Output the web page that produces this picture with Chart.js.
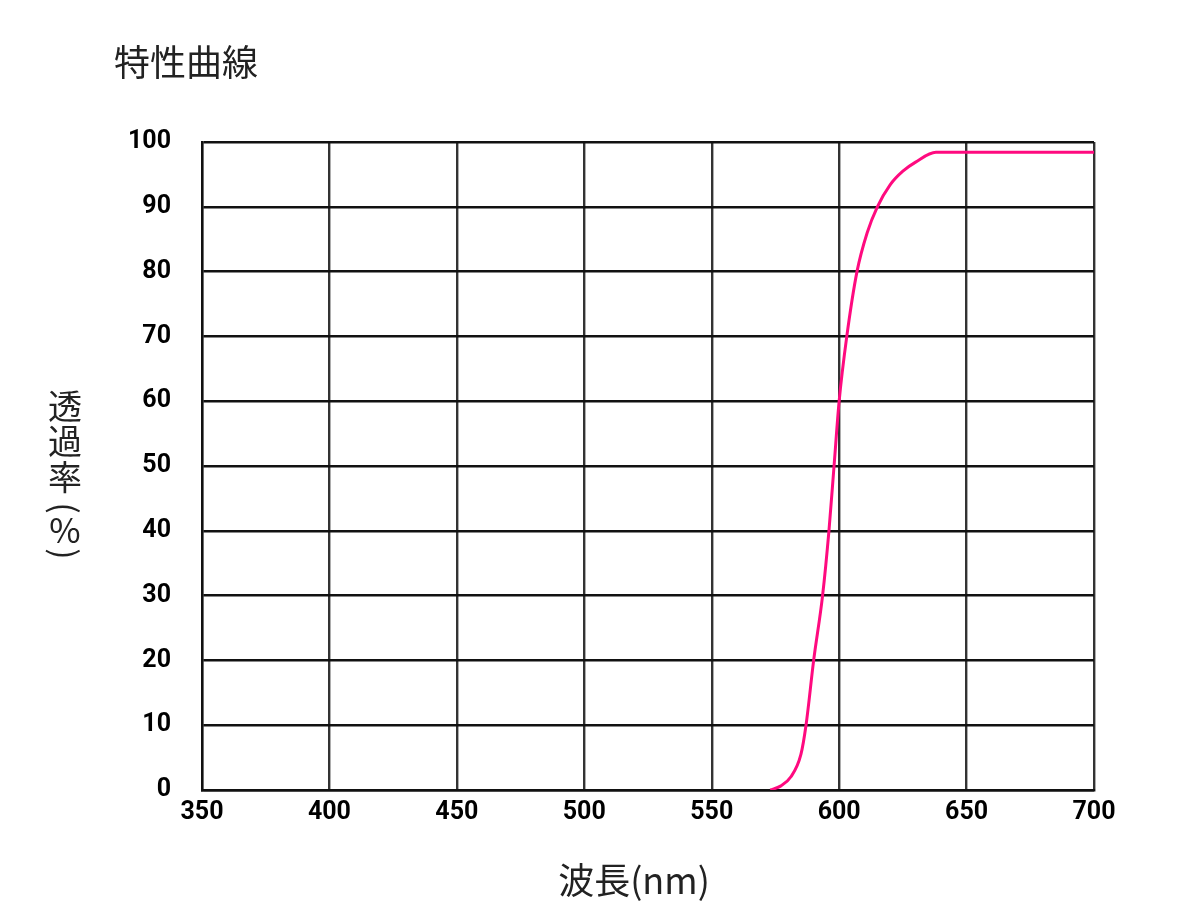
<!DOCTYPE html>
<html>
<head>
<meta charset="utf-8">
<style>
	body { margin: 0; background: #fff; }
	#wrap { width: 1200px; height: 913px; }
</style>
</head>
<body>
<div id="wrap">
	<canvas id="curveChart" width="1200" height="913"></canvas>
</div>

<script src="https://cdn.jsdelivr.net/npm/chart.js@4/dist/chart.umd.min.js"></script>

<script>
	// wavelength (nm) and transmittance (%)
	const wavelengths = [573, 577, 581, 585, 587, 590, 593.5, 596, 598, 600, 603, 607, 611, 615, 620, 625, 630, 638, 650, 700]
	const transmittance = [0, 0.6, 2, 5.5, 10, 20, 30, 40, 50, 60, 70, 80, 86, 90, 93.4, 95.5, 96.9, 98.4, 98.4, 98.4]

	const chartTitle = "特性曲線"
	const xTitle = "波長(nm)"
	const yTitleChars = ["透", "過", "率", "(", "%", ")"]

	const cjkFont = '"Noto Sans CJK JP", "Noto Sans", sans-serif'

	// titles are drawn by hand so the y label can be written vertically
	const textPlugin = {
		id: "texts",
		afterDraw(chart) {
			const ctx = chart.ctx
			ctx.save()
			ctx.fillStyle = "#222"
			ctx.font = "36px " + cjkFont
			ctx.textBaseline = "middle"
			ctx.textAlign = "left"
			ctx.fillText(chartTitle, 114, 62)

			ctx.textAlign = "center"
			ctx.fillText(xTitle, 634, 880)

			ctx.font = "34px " + cjkFont
			let y = 406
			const steps = [35, 36, 31, 22, 24, 0]
			yTitleChars.forEach((ch, i) => {
				ctx.save()
				ctx.translate(65, y)
				if (ch === "(" || ch === ")") ctx.rotate(Math.PI / 2)
				ctx.fillText(ch, 0, 0)
				ctx.restore()
				y += steps[i]
			})
			ctx.restore()
		}
	}

	const ctx = document.getElementById("curveChart")
	const curveChart = new Chart(ctx, {
		type: "line",
		data: {
			datasets: [{
				data: wavelengths.map((w, i) => ({ x: w, y: transmittance[i] })),
				borderColor: "#ff0a7f",
				borderWidth: 3,
				pointRadius: 0,
				cubicInterpolationMode: "monotone",
				fill: false
			}]
		},
		options: {
			responsive: false,
			animation: false,
			layout: { padding: { top: 142, right: 106, left: 0, bottom: 0 } },
			plugins: {
				legend: { display: false },
				tooltip: { enabled: false }
			},
			scales: {
				x: {
					type: "linear",
					min: 350,
					max: 700,
					ticks: {
						stepSize: 50,
						padding: 8,
						color: "#000",
						font: { family: "Roboto", weight: "bold", size: 25 }
					},
					grid: { color: "#333", lineWidth: 2.4, drawTicks: false },
					border: { color: "#111", width: 2.4 },
					afterFit(scale) { scale.height = 123 }
				},
				y: {
					min: 0,
					max: 100,
					ticks: {
						stepSize: 10,
						padding: 31,
						color: "#000",
						font: { family: "Roboto", weight: "bold", size: 25 }
					},
					grid: { color: "#111", lineWidth: 2.4, drawTicks: false },
					border: { color: "#111", width: 2.4 },
					afterFit(scale) { scale.width = 202 }
				}
			}
		},
		plugins: [textPlugin]
	})
</script>
</body>
</html>
